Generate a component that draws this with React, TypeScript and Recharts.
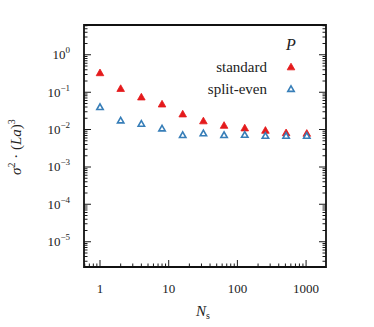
import React from 'react';
import { ScatterChart, Scatter, XAxis, YAxis } from 'recharts';

// number of samples (x) and variance for the two schemes
const sampleSizes = [1, 2, 4, 8, 16, 32, 64, 128, 256, 512, 1024];
const standardValues = [0.33, 0.125, 0.074, 0.048, 0.026, 0.017, 0.0129, 0.011, 0.0095, 0.0082, 0.0079];
const splitEvenValues = [0.04, 0.0175, 0.0143, 0.0107, 0.0071, 0.0079, 0.0071, 0.0072, 0.0068, 0.0068, 0.0068];

const xTickValues = [
  0.6, 0.7, 0.8, 0.9, 1, 2, 3, 4, 5, 6, 7, 8, 9, 10, 20, 30, 40, 50, 60, 70, 80, 90,
  100, 200, 300, 400, 500, 600, 700, 800, 900, 1000,
];
const yDecades = [-6, -5, -4, -3, -2, -1, 0];

const W = 374;
const H = 327;
const L = 84;
const R = 326;
const T = 25;
const B = 267;
const X_DOMAIN = [0.585, 1950];
const Y_DOMAIN = [2.1e-6, 6.3];

const RED = '#e41a1c';
const BLUE = '#377eb8';
const INK = '#222222';
const FONT = '"Liberation Serif", "DejaVu Serif", serif';

const yTickValues = yDecades
  .flatMap((e) => [1, 2, 3, 4, 5, 6, 7, 8, 9].map((m) => Number((m * Math.pow(10, e)).toPrecision(3))))
  .filter((v) => v >= Y_DOMAIN[0] && v <= Y_DOMAIN[1]);

const toPoints = (vals: number[]) => sampleSizes.map((n, i) => ({ n, v: vals[i] }));

const series = [
  { name: 'standard', color: RED, filled: true, data: toPoints(standardValues) },
  { name: 'split-even', color: BLUE, filled: false, data: toPoints(splitEvenValues) },
];

const isDecade = (v: number) => {
  const e = Math.log10(v);
  return Math.abs(e - Math.round(e)) < 1e-6;
};

// filled box path (x, y, w, h)
const box = (x: number, y: number, w: number, h: number) => `M${x},${y}h${w}v${h}h${-w}Z`;

const Triangle = ({ cx, cy, color, filled }: any) => {
  const s = filled ? 3.8 : 3.2;
  return (
    <path
      d={`M${cx},${cy - s} L${cx + s},${cy + s * 0.75} L${cx - s},${cy + s * 0.75} Z`}
      fill={filled ? color : '#ffffff'}
      stroke={color}
      strokeWidth={filled ? 0.8 : 1.6}
    />
  );
};

const YTick = (props: any) => {
  const { y, payload } = props;
  const v = payload.value;
  const major = isDecade(v);
  const len = major ? 7 : 3.5;
  const e = Math.round(Math.log10(v));
  return (
    <g>
      <path d={box(L, y - 0.5, len, 1) + box(R - len, y - 0.5, len, 1)} fill="#1a1a1a" />
      {major && (
        <text x={70} y={y + 4.5} textAnchor="end" fontSize={13} fill={INK} fontFamily={FONT}>
          10
          <tspan dy={-6} fontSize={9}>
            {e < 0 ? `\u2212${-e}` : `${e}`}
          </tspan>
        </text>
      )}
    </g>
  );
};

const XTick = (props: any) => {
  const { x, payload } = props;
  const v = payload.value;
  const major = isDecade(v);
  const len = major ? 7 : 3.5;
  return (
    <g>
      <path d={box(x - 0.5, B - len, 1, len)} fill="#1a1a1a" />
      {major && v >= 1 && (
        <text x={x} y={293} textAnchor="middle" fontSize={13} fill={INK} fontFamily={FONT}>
          {v}
        </text>
      )}
    </g>
  );
};

const frameOuter = box(L - 0.9, T - 0.9, R - L + 1.8, B - T + 1.8);
const frameInner = box(L + 0.9, T + 0.9, R - L - 1.8, B - T - 1.8);

const App: React.FC = () => {
  return (
    <div style={{ position: 'absolute', left: 0, top: 0, width: W, height: H, background: '#fff' }}>
      <ScatterChart width={W} height={H} margin={{ top: T, right: W - R, bottom: 0, left: 0 }}>
        <XAxis
          dataKey="n"
          type="number"
          scale="log"
          domain={X_DOMAIN}
          allowDataOverflow
          ticks={xTickValues}
          interval={0}
          axisLine={false}
          tickLine={false}
          tick={<XTick />}
          height={H - B}
        />
        <YAxis
          dataKey="v"
          type="number"
          scale="log"
          domain={Y_DOMAIN}
          allowDataOverflow
          ticks={yTickValues}
          interval={0}
          axisLine={false}
          tickLine={false}
          tick={<YTick />}
          width={L}
        />
        {series.map((s) => (
          <Scatter
            key={s.name}
            name={s.name}
            data={s.data}
            isAnimationActive={false}
            shape={(p: any) => <Triangle cx={p.cx} cy={p.cy} color={s.color} filled={s.filled} />}
          />
        ))}
      </ScatterChart>
      <svg
        width={W}
        height={H}
        style={{ position: 'absolute', left: 0, top: 0, pointerEvents: 'none' }}
        fontFamily={FONT}
      >
        <path d={frameOuter + frameInner} fill="#111111" fillRule="evenodd" />
        <text x={291} y={50} textAnchor="middle" fontSize={16} fontStyle="italic" fill={INK}>
          P
        </text>
        {series.map((s, i) => (
          <g key={s.name}>
            <text x={267} y={72 + i * 22} textAnchor="end" fontSize={15} fill={INK}>
              {s.name}
            </text>
            <Triangle cx={291} cy={67 + i * 22} color={s.color} filled={s.filled} />
          </g>
        ))}
        <text x={203} y={316} textAnchor="middle" fontSize={15} fill={INK}>
          <tspan fontStyle="italic">N</tspan>
          <tspan dy={3} fontSize={10}>s</tspan>
        </text>
        <text
          x={21}
          y={147}
          textAnchor="middle"
          fontSize={15}
          fill={INK}
          transform="rotate(-90 21 147)"
        >
          <tspan fontStyle="italic">σ</tspan>
          <tspan dy={-6} fontSize={10}>2</tspan>
          <tspan dy={6}> · (</tspan>
          <tspan fontStyle="italic">La</tspan>
          <tspan>)</tspan>
          <tspan dy={-6} fontSize={10}>3</tspan>
        </text>
      </svg>
    </div>
  );
};

export default App;
